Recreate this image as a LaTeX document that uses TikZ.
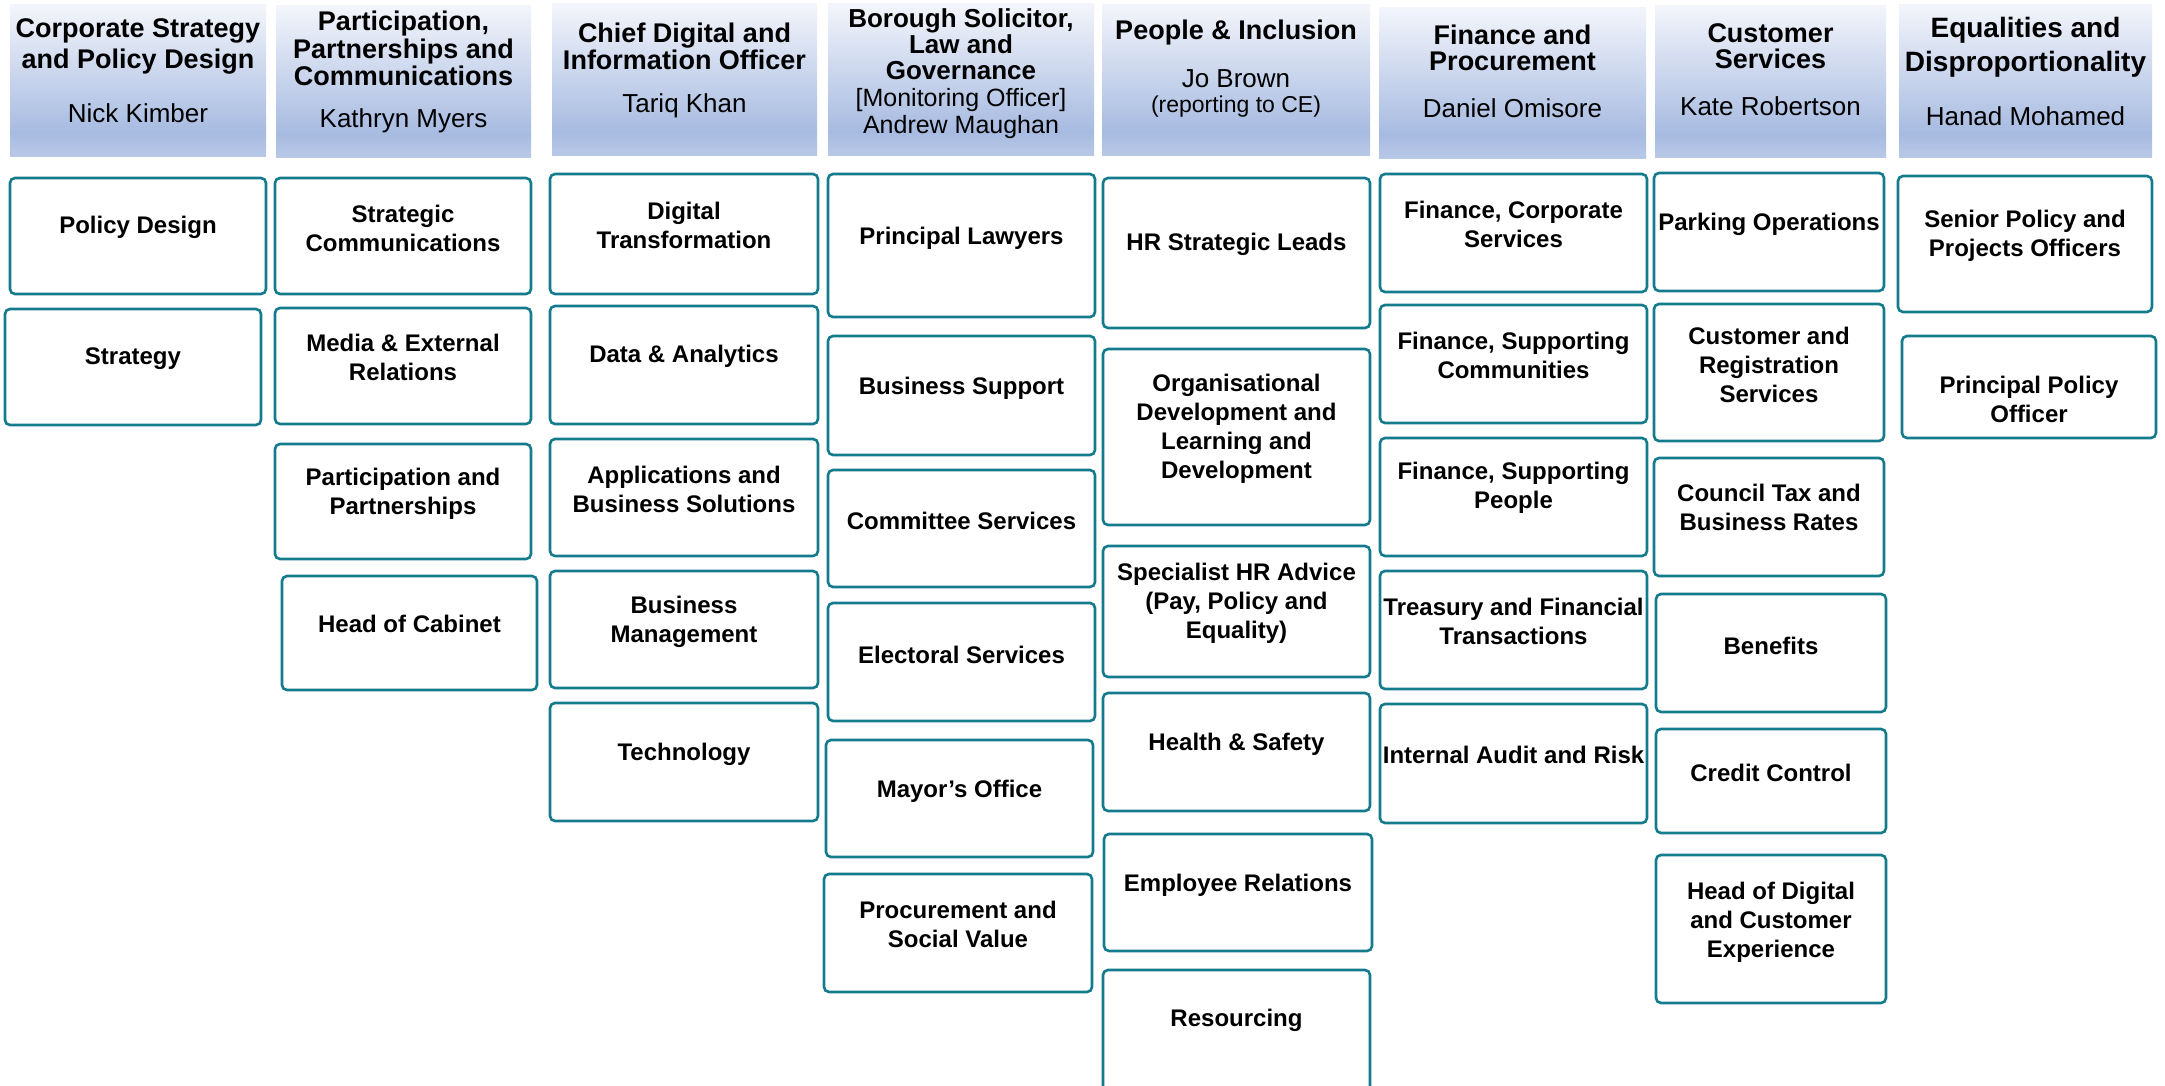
\documentclass[tikz,border=0pt]{standalone}
\usepackage{fontspec}
\setmainfont{Liberation Sans}
\usepackage{tikz}
\definecolor{headtop}{RGB}{243,245,251}
\definecolor{headbot}{RGB}{167,187,225}
\definecolor{unitline}{RGB}{20,123,141}
\pgfdeclareverticalshading{headshade}{100bp}{color(0bp)=(headbot!80!white); color(25bp)=(headbot!80!white); color(33bp)=(headbot); color(75bp)=(headtop); color(100bp)=(headtop)}
\newcommand{\headbox}[4]{
	\shade[shading=headshade] (#1,#2) rectangle (#3,#4);
}
\newcommand{\unitbox}[7]{
	\draw[unit] (#2,#3) rectangle (#4,#5);
	\node[unittext] (#1) at ({(#2+#4)/2},#6) {#7};
}

\begin{document}
\begin{tikzpicture}[x=0.5pt,y=-0.5pt,
	unit/.style={draw=unitline, line width=1.3pt, rounded corners=2.5pt, fill=white},
	unittext/.style={align=center, inner sep=0pt, yshift=-1.4pt, font=\bfseries\fontsize{12}{14.5}\selectfont},
	headtitle/.style={align=center, inner sep=0pt, font=\bfseries\fontsize{13.5}{#1}\selectfont},
	headtitle/.default=13,
	headname/.style={align=center, inner sep=0pt, font=\fontsize{13}{13.5}\selectfont}]
	\useasboundingbox (0,0) rectangle (2165,1086);
	\clip (0,0) rectangle (2165,1086);

	% headers
	\headbox{10}{5}{266}{157}
	\headbox{276}{6}{531}{158}
	\headbox{552}{4}{817}{156}
	\headbox{828}{4}{1094}{156}
	\headbox{1102}{5}{1370}{156}
	\headbox{1379}{8}{1646}{159}
	\headbox{1655}{6}{1886}{158}
	\headbox{1899}{5}{2152}{158}

	\node[headtitle=15.5] (strattitle) at (138,46) {Corporate Strategy\\and Policy Design};
	\node[headname] (stratname) at (138,113) {Nick Kimber};
	\node[headtitle=12] (parttitle) at (403.5,48.5) {Participation,\\Partnerships and\\Communications};
	\node[headname] (partname) at (403.5,121) {Kathryn Myers};
	\node[headtitle=13.5] (digtitle) at (684.5,46) {Chief Digital and\\Information Officer};
	\node[headname] (digname) at (684.5,106) {Tariq Khan};
	\node[headtitle=13, font=\bfseries\fontsize{13}{13}\selectfont] (lawtitle) at (961,44) {Borough Solicitor,\\Law and\\Governance};
	\node[headname, font=\fontsize{12.5}{13.5}\selectfont] (lawname) at (961,114) {[Monitoring Officer]\\Andrew Maughan};
	\node[headtitle] (peopletitle) at (1236,33) {People \& Inclusion};
	\node[headname] (peoplename) at (1236,79) {Jo Brown};
	\node[headname, font=\fontsize{11.5}{12}\selectfont] (peoplenote) at (1236,107) {(reporting to CE)};
	\node[headtitle=13] (fintitle) at (1512.5,48) {Finance and\\Procurement};
	\node[headname] (finname) at (1512.5,108) {Daniel Omisore};
	\node[headtitle=13] (custtitle) at (1770.5,46) {Customer\\Services};
	\node[headname] (custname) at (1770.5,106) {Kate Robertson};
	\node[headtitle=17, font=\bfseries\fontsize{14}{17}\selectfont] (eqtitle) at (2025.5,47) {Equalities and\\Disproportionality};
	\node[headname] (eqname) at (2025.5,116) {Hanad Mohamed};

	% corporate strategy
	\unitbox{policy}{10}{178}{266}{294}{225}{Policy Design}
	\unitbox{strategy}{5}{309}{261}{425}{356}{Strategy}

	% participation
	\unitbox{stratcomms}{275}{178}{531}{294}{226}{Strategic\\Communications}
	\unitbox{media}{275}{308}{531}{424}{355}{Media \& External\\Relations}
	\unitbox{partners}{275}{444}{531}{559}{491}{Participation and\\Partnerships}
	\unitbox{cabinet}{282}{576}{537}{690}{621}{Head of Cabinet}

	% digital
	\unitbox{digital}{550}{174}{818}{294}{223}{Digital\\Transformation}
	\unitbox{data}{550}{306}{818}{424}{353}{Data \& Analytics}
	\unitbox{apps}{550}{439}{818}{556}{487}{Applications and\\Business Solutions}
	\unitbox{busmgmt}{550}{571}{818}{688}{619}{Business\\Management}
	\unitbox{tech}{550}{703}{818}{821}{752}{Technology}

	% law and governance
	\unitbox{lawyers}{828}{174}{1095}{317}{235}{Principal Lawyers}
	\unitbox{bussupport}{828}{336}{1095}{455}{385}{Business Support}
	\unitbox{committee}{828}{470}{1095}{587}{518}{Committee Services}
	\unitbox{electoral}{828}{603}{1095}{721}{652}{Electoral Services}
	\unitbox{mayor}{826}{740}{1093}{857}{788}{Mayor’s Office}
	\unitbox{procure}{824}{874}{1092}{992}{922}{Procurement and\\Social Value}

	% people
	\unitbox{hrleads}{1103}{178}{1370}{328}{242}{HR Strategic Leads}
	\unitbox{orgdev}{1103}{349}{1370}{525}{426}{Organisational\\Development and\\Learning and\\Development}
	\unitbox{hradvice}{1103}{546}{1370}{677}{600}{Specialist HR Advice\\(Pay, Policy and\\Equality)}
	\unitbox{safety}{1103}{693}{1370}{811}{741}{Health \& Safety}
	\unitbox{relations}{1104}{834}{1372}{951}{882}{Employee Relations}
	\unitbox{resourcing}{1103}{970}{1370}{1110}{1018}{Resourcing}

	% finance
	\unitbox{fincorp}{1380}{174}{1647}{292}{222}{Finance, Corporate\\Services}
	\unitbox{fincomm}{1380}{305}{1647}{423}{353}{Finance, Supporting\\Communities}
	\unitbox{finpeople}{1380}{438}{1647}{556}{485}{Finance, Supporting\\People}
	\unitbox{treasury}{1380}{571}{1647}{689}{619}{Treasury and Financial\\Transactions}
	\unitbox{audit}{1380}{704}{1647}{823}{752}{Internal Audit and Risk}

	% customer services
	\unitbox{parking}{1654}{173}{1884}{291}{222}{Parking Operations}
	\unitbox{registration}{1654}{304}{1884}{441}{362}{Customer and\\Registration\\Services}
	\unitbox{counciltax}{1654}{458}{1884}{576}{505}{Council Tax and\\Business Rates}
	\unitbox{benefits}{1656}{594}{1886}{712}{643}{Benefits}
	\unitbox{credit}{1656}{729}{1886}{833}{770}{Credit Control}
	\unitbox{custexp}{1656}{855}{1886}{1003}{919}{Head of Digital\\and Customer\\Experience}

	% equalities
	\unitbox{seniorpolicy}{1898}{176}{2152}{312}{233}{Senior Policy and\\Projects Officers}
	\unitbox{princpolicy}{1902}{336}{2156}{438}{397}{Principal Policy\\Officer}
\end{tikzpicture}
\end{document}
